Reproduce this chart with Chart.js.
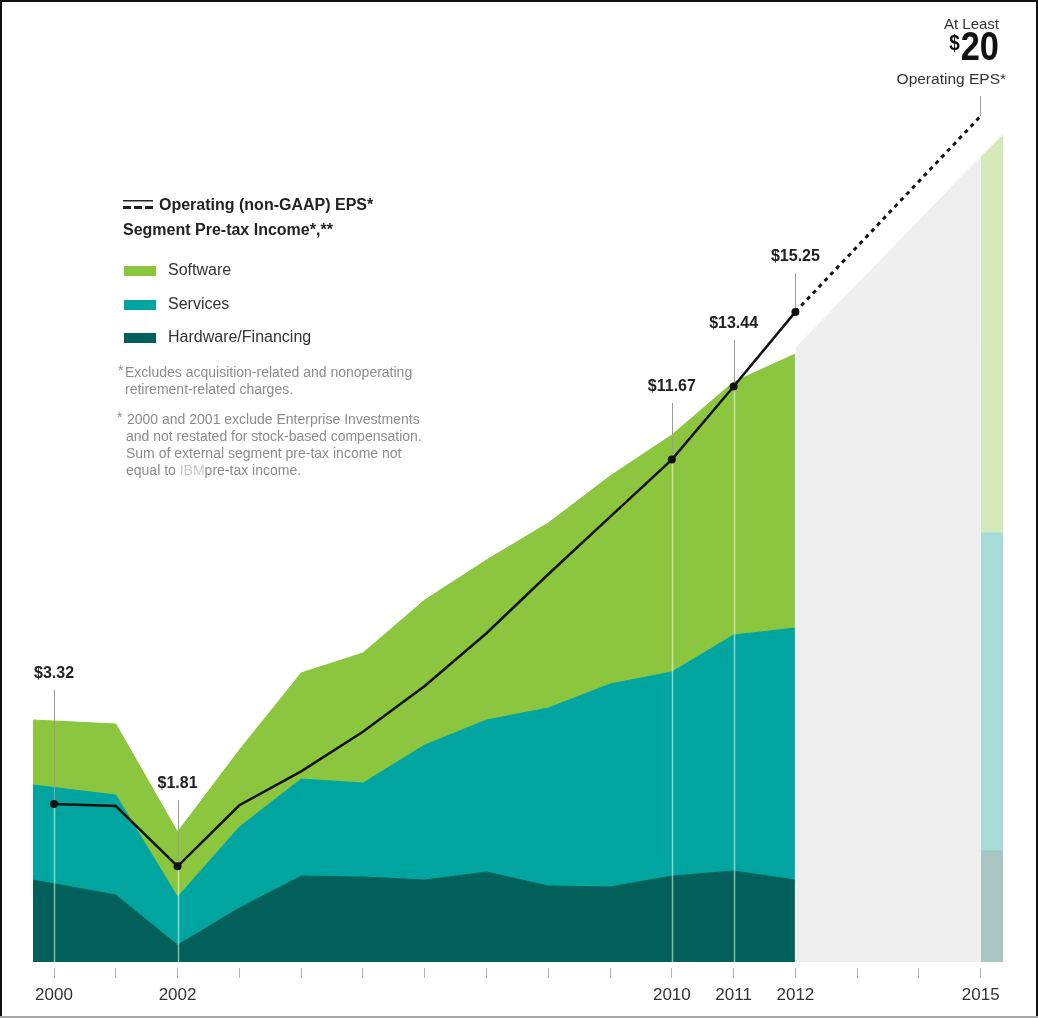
<!DOCTYPE html>
<html>
<head>
<meta charset="utf-8">
<title>Operating EPS and Segment Pre-tax Income</title>
<script src="https://cdn.jsdelivr.net/npm/chart.js@4.4.1/dist/chart.umd.min.js"></script>
<style>
    html, body { margin: 0; padding: 0; background: #fff; }
    #epsChart { display: block; }
</style>
</head>
<body>
<canvas id="epsChart" width="1038" height="1018"></canvas>
<script>
// segment pre-tax income ($B); the areas start a little left of the 2000 tick
var segmentYears   = [1999.66, 2001, 2002, 2003, 2004, 2005, 2006, 2007, 2008, 2009, 2010, 2011, 2012];
var hardwareIncome = [3.28, 2.68, 0.68, 2.16, 3.44, 3.40, 3.28, 3.60, 3.04, 3.00, 3.44, 3.64, 3.28];
var servicesIncome = [3.80, 4.00, 1.92, 3.24, 3.88, 3.76, 5.40, 6.08, 7.12, 8.12, 8.16, 9.44, 10.08];
var softwareIncome = [2.60, 2.84, 2.60, 3.08, 4.24, 5.20, 5.80, 6.40, 7.40, 8.32, 9.48, 10.12, 10.96];

// 2015 roadmap mix and the outlook wedge between 2012 and 2015
var targetYears    = [2015, 2015.36];
var targetHardware = [4.44, 4.44];
var targetServices = [12.72, 12.72];
var targetSoftware = [15.04, 15.92];
var outlookYears   = [2012, 2015];
var outlookTotal   = [24.56, 32.2];

// operating (non-GAAP) EPS
var epsYears  = [2000, 2001, 2002, 2003, 2004, 2005, 2006, 2007, 2008, 2009, 2010, 2011, 2012, 2015];
var epsValues = [3.32, 3.27, 1.81, 3.29, 4.11, 5.07, 6.18, 7.46, 8.89, 10.28, 11.67, 13.44, 15.25, 20];
var calloutYears = [2000, 2002, 2010, 2011, 2012];

// x axis
var tickYears   = [2000, 2001, 2002, 2003, 2004, 2005, 2006, 2007, 2008, 2009, 2010, 2011, 2012, 2013, 2014, 2015];
var tickLabels  = [2000, 2002, 2010, 2011, 2012, 2015];

var fontFamily = '"Liberation Sans", Arial, Helvetica, sans-serif';
var calloutTop = { 2000: 674, 2002: 784, 2010: 387, 2011: 324, 2012: 257 };

function points(xs, ys) {
    return xs.map(function (x, i) { return { x: x, y: ys[i] }; });
}

function area(label, xs, ys, color, stack, fill) {
    return {
        label: label,
        data: points(xs, ys),
        stack: stack,
        fill: fill,
        backgroundColor: color,
        borderColor: color,
        borderWidth: 1,
        pointRadius: 0,
        tension: 0
    };
}

function line(ctx, x1, y1, x2, y2) {
    ctx.beginPath();
    ctx.moveTo(x1, y1);
    ctx.lineTo(x2, y2);
    ctx.stroke();
}

function drawGuides(chart) {
    var ctx = chart.ctx, x = chart.scales.x, eps = chart.scales.eps;
    ctx.save();
    calloutYears.forEach(function (year) {
        var px = Math.round(x.getPixelForValue(year)) + 0.5;
        var py = eps.getPixelForValue(epsValues[epsYears.indexOf(year)]);
        ctx.lineWidth = 1;
        ctx.strokeStyle = '#9c9c9c';
        line(ctx, px, calloutTop[year] + 16, px, py);
        ctx.lineWidth = 1.5;
        ctx.strokeStyle = 'rgba(255,255,255,0.55)';
        line(ctx, px, py, px, chart.chartArea.bottom);
    });
    var last = epsYears.length - 1;
    var lx = Math.round(x.getPixelForValue(epsYears[last])) - 0.5;
    ctx.lineWidth = 1;
    ctx.strokeStyle = '#9c9c9c';
    line(ctx, lx, 96, lx, eps.getPixelForValue(epsValues[last]));
    ctx.restore();
}

function drawCallouts(chart) {
    var ctx = chart.ctx, x = chart.scales.x;
    ctx.save();
    ctx.fillStyle = '#222';
    ctx.textAlign = 'center';
    ctx.textBaseline = 'middle';
    ctx.font = 'bold 16px ' + fontFamily;
    calloutYears.forEach(function (year) {
        var v = epsValues[epsYears.indexOf(year)];
        ctx.fillText('$' + v.toFixed(2), x.getPixelForValue(year), calloutTop[year]);
    });

    // 2015 target
    var target = epsValues[epsValues.length - 1];
    ctx.textAlign = 'right';
    ctx.fillStyle = '#333';
    ctx.font = '15px ' + fontFamily;
    ctx.fillText('At Least', 999, 25);
    ctx.font = '15.5px ' + fontFamily;
    ctx.fillText('Operating EPS*', 1006, 80);
    ctx.fillStyle = '#111';
    ctx.save();
    ctx.translate(999, 49);
    ctx.scale(0.86, 1);
    ctx.font = 'bold 40px ' + fontFamily;
    ctx.fillText(String(target), 0, 0);
    var w = ctx.measureText(String(target)).width;
    ctx.font = 'bold 22px ' + fontFamily;
    ctx.textBaseline = 'top';
    ctx.fillText('$', -w - 1, -16);
    ctx.restore();
    ctx.restore();
}

function drawLegend(chart) {
    var ctx = chart.ctx;
    ctx.save();
    // line key: thin rule over a dashed rule
    ctx.fillStyle = '#222';
    ctx.fillRect(123, 200, 30, 1.5);
    ctx.fillRect(123, 206, 8, 3);
    ctx.fillRect(134, 206, 8, 3);
    ctx.fillRect(145, 206, 8, 3);

    ctx.textBaseline = 'middle';
    ctx.font = 'bold 16px ' + fontFamily;
    ctx.fillText('Operating (non-GAAP) EPS*', 159, 206);
    ctx.fillText('Segment Pre-tax Income*,**', 123, 231);

    var keys = [
        ['Software', '#8cc63e', 271],
        ['Services', '#00a59f', 305],
        ['Hardware/Financing', '#02605a', 338]
    ];
    ctx.font = '16px ' + fontFamily;
    keys.forEach(function (k) {
        ctx.fillStyle = k[1];
        ctx.fillRect(124, k[2] - 5, 32, 10);
        ctx.fillStyle = '#333';
        ctx.fillText(k[0], 168, k[2]);
    });

    ctx.font = '14px ' + fontFamily;
    ctx.fillStyle = '#8c8c8c';
    ctx.fillText('*', 118, 371);
    ctx.fillText('Excludes acquisition-related and nonoperating', 125, 373);
    ctx.fillText('retirement-related charges.', 125, 390);
    ctx.fillText('*', 117, 418);
    ctx.fillText('2000 and 2001 exclude Enterprise Investments', 127, 420);
    ctx.fillText('and not restated for stock-based compensation.', 126, 437);
    ctx.fillText('Sum of external segment pre-tax income not', 126, 454);
    var pre = 'equal to ';
    ctx.fillText(pre, 126, 471);
    var px = 126 + ctx.measureText(pre).width;
    ctx.fillStyle = '#c9c9c9';
    ctx.fillText('IBM', px, 471);
    px += ctx.measureText('IBM').width;
    ctx.fillStyle = '#8c8c8c';
    ctx.fillText('pre-tax income.', px, 471);
    ctx.restore();
}

function drawFrame(chart) {
    var ctx = chart.ctx, w = chart.width, h = chart.height;
    ctx.save();
    ctx.fillStyle = '#111';
    ctx.fillRect(0, 0, w, 2);
    ctx.fillRect(0, 0, 2, h);
    ctx.fillRect(w - 2, 0, 2, h);
    ctx.fillStyle = '#a8a8a8';
    ctx.fillRect(0, h - 2, w, 2);
    ctx.restore();
}

var annotations = {
    id: 'annotations',
    beforeDatasetDraw: function (chart, args) {
        if (chart.data.datasets[args.index].yAxisID === 'eps') drawGuides(chart);
    },
    afterDraw: function (chart) {
        drawCallouts(chart);
        drawLegend(chart);
        drawFrame(chart);
    }
};

function generarGrafica() {
    var ctx = document.getElementById('epsChart').getContext('2d');

    var outlook = area('Outlook', outlookYears, outlookTotal, '#efefef', 'outlook', 'origin');
    outlook.order = 1;

    var eps = {
        label: 'Operating (non-GAAP) EPS',
        data: points(epsYears, epsValues),
        yAxisID: 'eps',
        order: -1,
        fill: false,
        borderColor: '#111',
        borderWidth: 2.5,
        tension: 0,
        pointRadius: function (c) { return calloutYears.indexOf(epsYears[c.dataIndex]) >= 0 ? 4 : 0; },
        pointBackgroundColor: '#111',
        pointBorderWidth: 0,
        segment: {
            borderDash: function (c) { return c.p0.parsed.x >= 2012 ? [4, 4.5] : undefined; },
            borderWidth: function (c) { return c.p0.parsed.x >= 2012 ? 3 : undefined; }
        }
    };

    new Chart(ctx, {
        type: 'line',
        data: {
            datasets: [
                area('Hardware/Financing', segmentYears, hardwareIncome, '#02605a', 'actual', 'origin'),
                area('Services', segmentYears, servicesIncome, '#00a59f', 'actual', '-1'),
                area('Software', segmentYears, softwareIncome, '#8cc63e', 'actual', '-1'),
                area('Hardware/Financing 2015', targetYears, targetHardware, '#a8c5c1', 'target', 'origin'),
                area('Services 2015', targetYears, targetServices, '#a6dcda', 'target', '-1'),
                area('Software 2015', targetYears, targetSoftware, '#d6e9b8', 'target', '-1'),
                outlook,
                eps
            ]
        },
        options: {
            responsive: false,
            animation: false,
            devicePixelRatio: 1,
            events: [],
            layout: { padding: { left: 33, right: 35, top: 12, bottom: 0 } },
            plugins: { legend: { display: false }, tooltip: { enabled: false } },
            scales: {
                x: {
                    type: 'linear',
                    bounds: 'data',
                    min: 1999.66,
                    max: 2015.36,
                    border: { display: false },
                    grid: {
                        drawOnChartArea: false,
                        drawTicks: true,
                        tickLength: 16,
                        tickColor: '#b0b0b0',
                        tickWidth: 1,
                        tickBorderDash: [0, 6, 10, 100]
                    },
                    ticks: {
                        autoSkip: false,
                        maxRotation: 0,
                        padding: 7,
                        color: '#333',
                        font: { family: fontFamily, size: 17 },
                        callback: function (v) { return tickLabels.indexOf(v) >= 0 ? String(v) : ''; }
                    },
                    afterBuildTicks: function (scale) {
                        scale.ticks = tickYears.map(function (y) { return { value: y }; });
                    },
                    afterFit: function (scale) { scale.height = 56; }
                },
                y: { display: false, stacked: true, bounds: 'data', min: 0, max: 38 },
                eps: { display: false, bounds: 'data', min: -0.51, max: 22.52 }
            }
        },
        plugins: [annotations]
    });
}

generarGrafica();
</script>
</body>
</html>
